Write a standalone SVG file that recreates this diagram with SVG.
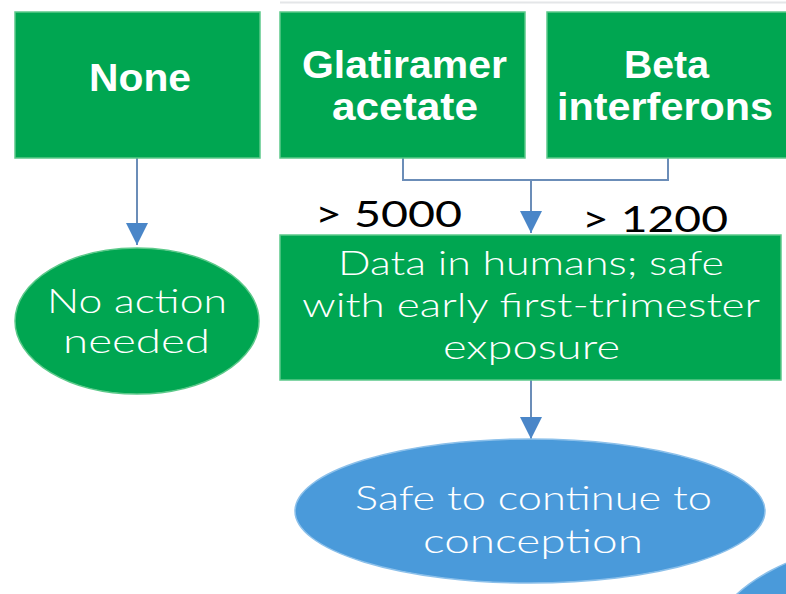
<svg xmlns="http://www.w3.org/2000/svg" width="786" height="594" viewBox="0 0 786 594">
  <defs>
    <style>
      .box { fill: #00a651; stroke: #5cc98a; stroke-width: 1.5; }
      .oval-green { fill: #00a651; stroke: #5cc98a; stroke-width: 1.5; }
      .oval-blue { fill: #4a9ada; stroke: #8cc0ea; stroke-width: 1.5; }
      .head { font-family: "Liberation Sans", Arial, sans-serif; font-weight: bold; font-size: 39px; fill: #ffffff; text-anchor: middle; }
      .body { font-family: Lato, "Open Sans", sans-serif; font-weight: 300; font-size: 34px; fill: #ffffff; text-anchor: middle; }
      .count { font-family: Lato, "Open Sans", sans-serif; font-weight: 400; font-size: 36px; fill: #000000; text-anchor: middle; }
      .wire { fill: none; stroke: #6b8db8; stroke-width: 2; }
    </style>
    <!-- downward arrowhead, tip at the end of the path -->
    <marker id="arrow" viewBox="0 0 22 22" refX="22" refY="11" markerWidth="22" markerHeight="22" markerUnits="userSpaceOnUse" orient="auto">
      <path d="M0,0 L22,11 L0,22 Z" fill="#4a86c8"/>
    </marker>
  </defs>

  <rect x="0" y="0" width="786" height="594" fill="#ffffff"/>
  <!-- faint rule along the top edge -->
  <line x1="280" y1="2.5" x2="786" y2="2.5" stroke="#e4e6e8" stroke-width="2"/>

  <!-- connectors -->
  <g id="connectors">
    <path class="wire" d="M137,158 L137,245" marker-end="url(#arrow)"/>
    <path class="wire" d="M403,158 L403,180 L668,180 L668,158"/>
    <path class="wire" d="M531,180 L531,233" marker-end="url(#arrow)"/>
    <path class="wire" d="M531,380 L531,439" marker-end="url(#arrow)"/>
  </g>

  <g id="none">
    <rect class="box" x="15" y="12" width="245" height="146"/>
    <text class="head" x="140" y="91" textLength="102" lengthAdjust="spacingAndGlyphs">None</text>
  </g>

  <g id="glatiramer">
    <rect class="box" x="280" y="12" width="245" height="146"/>
    <text class="head" x="404.5" y="78" textLength="205" lengthAdjust="spacingAndGlyphs">Glatiramer</text>
    <text class="head" x="405" y="120" textLength="146" lengthAdjust="spacingAndGlyphs">acetate</text>
  </g>

  <g id="beta">
    <rect class="box" x="547" y="12" width="245" height="146"/>
    <text class="head" x="666.5" y="78" textLength="85" lengthAdjust="spacingAndGlyphs">Beta</text>
    <text class="head" x="665" y="120" textLength="216" lengthAdjust="spacingAndGlyphs">interferons</text>
  </g>

  <g id="count-glatiramer">
    <text class="count" x="388.5" y="227" textLength="147" lengthAdjust="spacingAndGlyphs">&gt; 5000</text>
  </g>
  <g id="count-beta">
    <text class="count" x="655" y="232" textLength="146" lengthAdjust="spacingAndGlyphs">&gt; 1200</text>
  </g>

  <g id="human-data">
    <rect class="box" x="280" y="235" width="501" height="145"/>
    <text class="body" x="531" y="275" textLength="386" lengthAdjust="spacingAndGlyphs">Data in humans; safe</text>
    <text class="body" x="531" y="317" textLength="458" lengthAdjust="spacingAndGlyphs">with early first-trimester</text>
    <text class="body" x="531.5" y="359" textLength="177" lengthAdjust="spacingAndGlyphs">exposure</text>
  </g>

  <g id="no-action">
    <ellipse class="oval-green" cx="137" cy="321" rx="122" ry="73"/>
    <text class="body" x="137" y="313" textLength="180" lengthAdjust="spacingAndGlyphs">No action</text>
    <text class="body" x="136.5" y="353" textLength="147" lengthAdjust="spacingAndGlyphs">needed</text>
  </g>

  <g id="safe-continue">
    <ellipse class="oval-blue" cx="530" cy="511" rx="235" ry="72"/>
    <text class="body" x="533.5" y="510" textLength="357" lengthAdjust="spacingAndGlyphs">Safe to continue to</text>
    <text class="body" x="533" y="553" textLength="220" lengthAdjust="spacingAndGlyphs">conception</text>
  </g>

  <g id="next-oval">
    <ellipse class="oval-blue" cx="920" cy="648" rx="210" ry="110"/>
  </g>
</svg>
